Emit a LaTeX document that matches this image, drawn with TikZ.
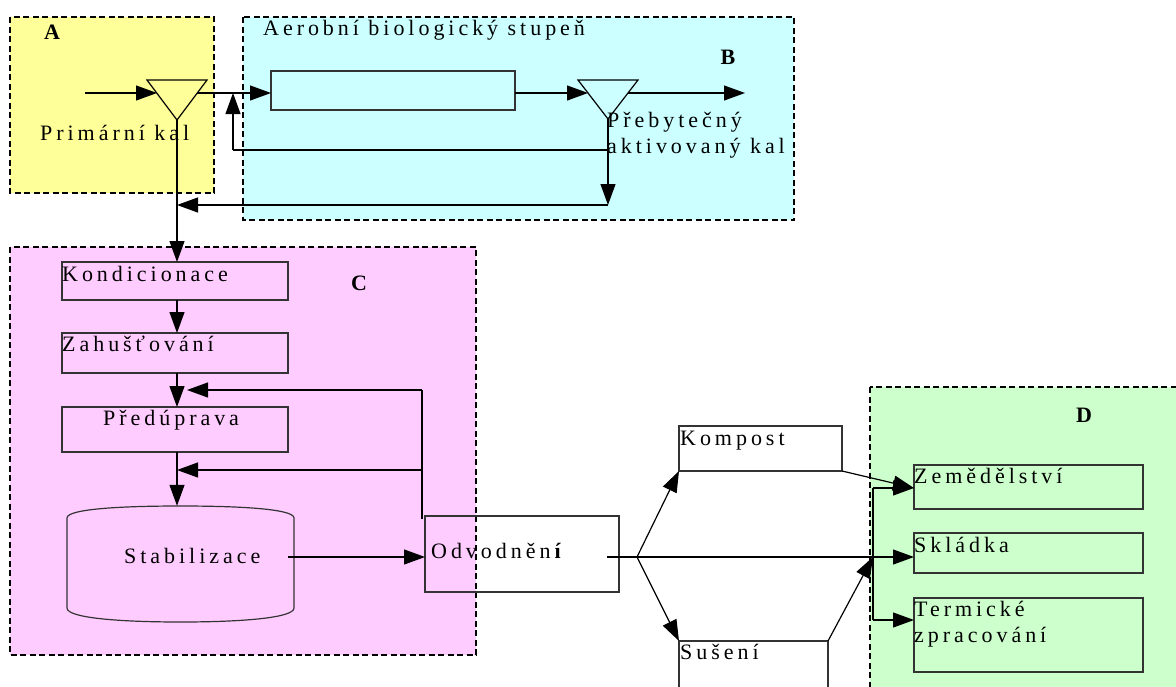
\documentclass[tikz,border=0pt]{standalone}
\usepackage{fontspec}
\setmainfont{Liberation Serif}
\newfontfamily\wideserif{Liberation Serif}[LetterSpace=18]
\definecolor{zoneyellow}{RGB}{255,255,153}
\definecolor{zonecyan}{RGB}{204,255,255}
\definecolor{zonepink}{RGB}{255,204,255}
\definecolor{zonegreen}{RGB}{204,255,204}
\definecolor{edgegray}{RGB}{51,51,51}
\usetikzlibrary{arrows.meta, positioning, calc}
\tikzset{
    zone/.style={draw=black, dash pattern=on 6pt off 3.5pt, line width=1.4pt},
    stagebox/.style={rectangle, draw=edgegray, line width=1.2pt, inner sep=0pt, outer sep=0pt, anchor=north west},
    stagetext/.style={font=\wideserif\fontsize{22}{26}\selectfont, inner sep=0pt, anchor=base west, align=left},
    zonetag/.style={font=\fontsize{22}{24}\selectfont\bfseries, inner sep=0pt},
    flowline/.style={line width=1.2pt, black},
    arrow/.style={flowline, -{Triangle[length=21pt, width=15pt]}},
    splitter/.style={draw=black, line width=1.2pt},
}

\begin{document}
\begin{tikzpicture}[x=1pt, y=-1pt]
    \useasboundingbox (0,0) rectangle (1176,686);

    % Zones
    \filldraw[zone, fill=zoneyellow] (10,17) rectangle (214,193);
    \filldraw[zone, fill=zonecyan] (243,17) rectangle (794,220);
    \filldraw[zone, fill=zonepink] (10,247) rectangle (476,655);
    \filldraw[zone, fill=zonegreen] (870,387) rectangle (1190,700);
    \node[zonetag] (tagA) at (52,32) {A};
    \node[zonetag] (tagB) at (728,57) {B};
    \node[zonetag] (tagC) at (359,283) {C};
    \node[zonetag] (tagD) at (1084,415) {D};

    % A: primary sludge
    \draw[splitter] (147,80) -- (207,80) -- (177,120) -- cycle;
    \coordinate (feed) at (85,93);
    \coordinate (splitAin) at (157,93);
    \coordinate (splitAout) at (197,93);
    \coordinate (splitAtip) at (177,120);
    \node[stagetext] (primtxt) at (40,140) {Primární kal};

    % B: aerobic stage
    \node[stagetext] (aertxt) at (263,35) {Aerobní biologický stupeň};
    \node[stagebox, minimum width=244pt, minimum height=39pt] (aer) at (271,71) {};
    \draw[splitter] (578,80) -- (638,80) -- (608,119) -- cycle;
    \coordinate (splitBin) at (588,93);
    \coordinate (splitBout) at (628,93);
    \coordinate (splitBtip) at (608,119);
    \coordinate (effluent) at (745,93);
    \node[stagetext] (excesstxt) at (607,153) {Přebytečný\\aktivovaný kal};
    \coordinate (exA) at (608,150);
    \coordinate (exB) at (608,205);
    \coordinate (recyc) at (233,150);
    \coordinate (mixA) at (177,205);

    \draw[arrow] (feed) -- (splitAin);
    \draw[arrow] (splitAout) -- (aer.west |- splitAout);
    \draw[arrow] (aer.east |- splitBin) -- (splitBin);
    \draw[arrow] (splitBout) -- (effluent);
    \draw[arrow] (splitBtip) -- (exB);
    \draw[flowline] (exA) -- (recyc);
    \draw[arrow] (recyc) -- (recyc |- splitAout);
    \draw[arrow] (exB) -- (mixA);

    % C: sludge treatment
    \node[stagebox, minimum width=226pt, minimum height=38pt] (kond) at (62,262) {};
    \node[stagebox, minimum width=226pt, minimum height=40pt] (zah) at (62,333) {};
    \node[stagebox, minimum width=226pt, minimum height=45pt] (pred) at (62,407) {};
    \node[stagetext] (kondtxt) at ($(kond.north west)+(0,19)$) {Kondicionace};
    \node[stagetext] (zahtxt) at ($(zah.north west)+(0,18)$) {Zahušťování};
    \node[stagetext] (predtxt) at ($(pred.north west)+(41,18)$) {Předúprava};

    \node[minimum width=227pt, minimum height=116pt, inner sep=0pt] (stab) at (180.5,564) {};
    \draw[splitter, draw=edgegray] (67,608) -- (67,518) .. controls (67,509) and (120,506) .. (180.5,506)
        .. controls (241,506) and (294,509) .. (294,518) -- (294,608)
        .. controls (294,618) and (241,622) .. (180.5,622)
        .. controls (120,622) and (67,618) .. (67,608) -- cycle;
    \node[stagetext] (stabtxt) at (124,563) {Stabilizace};

    \node[stagebox, minimum width=194pt, minimum height=76pt] (odv) at (425,516) {};
    \node[stagetext] (odvtxt) at ($(odv.north west)+(6,42)$) {Odvodněn\textbf{í}};

    \coordinate (jA) at (187,390);
    \coordinate (jB) at (177,470);
    \coordinate (ret) at (422,519);
    \coordinate (stabout) at (288,557);
    \coordinate (odvout) at (607,557);

    \draw[arrow] (splitAtip) -- (kond.north -| splitAtip);
    \draw[arrow] (kond.south -| splitAtip) -- (zah.north -| splitAtip);
    \draw[arrow] (zah.south -| splitAtip) -- (pred.north -| splitAtip);
    \draw[arrow] (pred.south -| splitAtip) -- (stab.north -| splitAtip);
    \draw[flowline] (ret) -- (ret |- jA);
    \draw[arrow] (ret |- jA) -- (jA);
    \draw[arrow] (ret |- jB) -- (jB);
    \draw[arrow] (stabout) -- (odv.west |- stabout);

    % Outlets and D: final use
    \node[stagebox, minimum width=163pt, minimum height=45pt] (komp) at (679,426) {};
    \node[stagebox, minimum width=149pt, minimum height=60pt] (sus) at (679,641) {};
    \node[stagetext] (komptxt) at ($(komp.north west)+(1,19)$) {Kompost};
    \node[stagetext] (sustxt) at ($(sus.north west)+(1,18)$) {Sušení};

    \node[stagebox, minimum width=229pt, minimum height=44pt] (zem) at (914,465) {};
    \node[stagebox, minimum width=229pt, minimum height=40pt] (skl) at (914,533) {};
    \node[stagebox, minimum width=229pt, minimum height=74pt] (term) at (914,598) {};
    \node[stagetext] (zemtxt) at ($(zem.north west)+(0,18)$) {Zemědělství};
    \node[stagetext] (skltxt) at ($(skl.north west)+(0,19)$) {Skládka};
    \node[stagetext] (termtxt) at ($(term.north west)+(0,44)$) {Termické\\zpracování};

    \coordinate (fork) at (637,557);
    \coordinate (dist) at (873,557);
    \coordinate (distTop) at (873,488);
    \coordinate (distBot) at (873,620);

    \draw[flowline] (odvout) -- (fork);
    \draw[arrow] (fork) -- (komp.south west);
    \draw[arrow] (fork) -- (sus.north west);
    \draw[arrow] (fork) -- (skl.west |- fork);
    \draw[arrow] (sus.north east) -- (dist);
    \draw[arrow] (komp.south east) -- (zem.west |- distTop);
    \draw[flowline] (distTop) -- (distBot);
    \draw[arrow] (distTop) -- (zem.west |- distTop);
    \draw[arrow] (distBot) -- (term.west |- distBot);
\end{tikzpicture}
\end{document}
